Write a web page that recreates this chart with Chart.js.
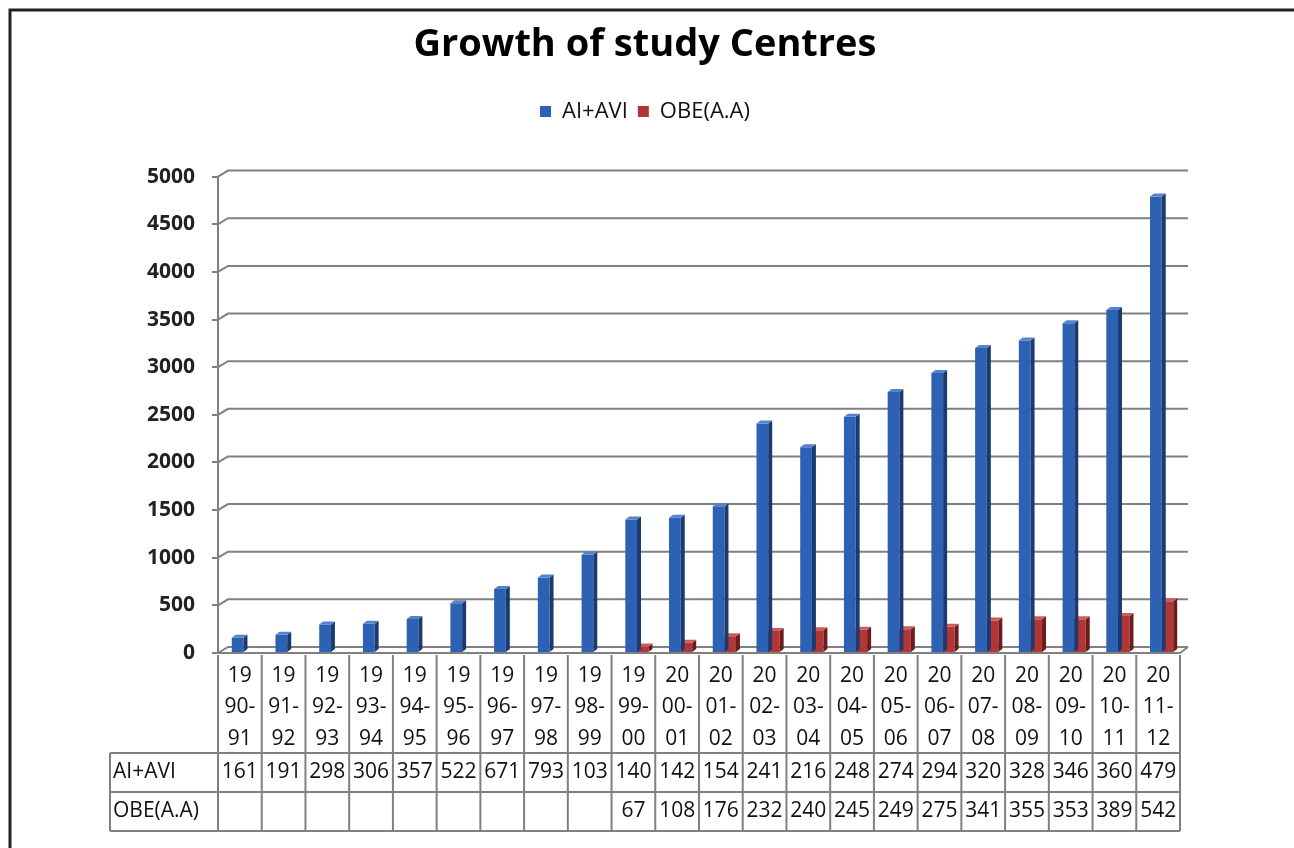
<!DOCTYPE html>
<html>
<head>
<meta charset="utf-8">
<title>Growth of study Centres</title>
<script src="https://cdn.jsdelivr.net/npm/chart.js@4.4.1/dist/chart.umd.min.js"></script>
<style>
    body { margin: 0; background: #ffffff; }
    canvas { display: block; }
</style>
</head>
<body>
<canvas id="myChart" width="1294" height="848"></canvas>
<script>
// years shown on the x axis / table header
var categories = ['1990-91', '1991-92', '1992-93', '1993-94', '1994-95', '1995-96', '1996-97',
    '1997-98', '1998-99', '1999-00', '2000-01', '2001-02', '2002-03', '2003-04', '2004-05',
    '2005-06', '2006-07', '2007-08', '2008-09', '2009-10', '2010-11', '2011-12']

// AI+AVI centres (table cells only show the first 3 digits)
var aiAvi = [161, 191, 298, 306, 357, 522, 671, 793, 1030, 1400, 1420, 1540, 2410, 2160,
    2480, 2740, 2940, 3200, 3280, 3460, 3600, 4790]

// OBE(A.A) centres, none before 1999-00
var obe = [null, null, null, null, null, null, null, null, null, 67, 108, 176, 232, 240,
    245, 249, 275, 341, 355, 353, 389, 542]

var seriesNames = ['AI+AVI', 'OBE(A.A)']
var yMax = 5000
var yStep = 500

var FONT = "'Open Sans', 'Liberation Sans', sans-serif"
var depth = { dx: 10, dy: 6 }      // 3d shift of the walls
var barDepth = { dx: 4, dy: 3 }    // 3d shift of the bars

var barColors = [
    { front: '#2C61B3', side: '#1B3A70', top: '#5584CC' },
    { front: '#B23636', side: '#6B1D1D', top: '#CF5A5A' }
]

// frame round the picture
var framePlugin = {
    id: 'frame',
    afterDraw: function (chart) {
        var ctx = chart.ctx
        ctx.save()
        ctx.strokeStyle = '#222'
        ctx.lineWidth = 3
        ctx.beginPath()
        ctx.moveTo(10, 848)
        ctx.lineTo(10, 10)
        ctx.lineTo(1294, 10)
        ctx.stroke()
        ctx.restore()
    }
}

// back wall gridlines with the little 3d step at the axis
var wallPlugin = {
    id: 'wall',
    beforeDatasetsDraw: function (chart) {
        var ctx = chart.ctx
        var y = chart.scales.y
        var area = chart.chartArea
        ctx.save()
        ctx.strokeStyle = '#808080'
        ctx.lineWidth = 2
        for (var v = 0; v <= yMax; v += yStep) {
            var py = y.getPixelForValue(v)
            ctx.beginPath()
            ctx.moveTo(area.left, py)
            ctx.lineTo(area.left + depth.dx, py - depth.dy)
            ctx.lineTo(area.right + depth.dx - 2, py - depth.dy)
            ctx.stroke()
        }
        // floor front edge
        var p0 = y.getPixelForValue(0)
        ctx.beginPath()
        ctx.moveTo(area.left, p0)
        ctx.lineTo(area.right, p0)
        ctx.lineTo(area.right + depth.dx - 2, p0 - depth.dy)
        ctx.stroke()
        ctx.restore()
    }
}

// side and top faces of each bar
var bar3dPlugin = {
    id: 'bar3d',
    afterDatasetDraw: function (chart, args) {
        var ctx = chart.ctx
        var c = barColors[args.index]
        ctx.save()
        args.meta.data.forEach(function (bar, i) {
            if (chart.data.datasets[args.index].data[i] == null) return
            var p = bar.getProps(['x', 'y', 'base', 'width'], true)
            var l = p.x - p.width / 2
            var r = p.x + p.width / 2
            ctx.fillStyle = c.side
            ctx.beginPath()
            ctx.moveTo(r, p.y)
            ctx.lineTo(r + barDepth.dx, p.y - barDepth.dy)
            ctx.lineTo(r + barDepth.dx, p.base - barDepth.dy)
            ctx.lineTo(r, p.base)
            ctx.closePath()
            ctx.fill()
            ctx.fillStyle = c.top
            ctx.beginPath()
            ctx.moveTo(l, p.y)
            ctx.lineTo(l + barDepth.dx, p.y - barDepth.dy)
            ctx.lineTo(r + barDepth.dx, p.y - barDepth.dy)
            ctx.lineTo(r, p.y)
            ctx.closePath()
            ctx.fill()
        })
        ctx.restore()
    }
}

// data table under the plot
var tablePlugin = {
    id: 'dataTable',
    afterDraw: function (chart) {
        var ctx = chart.ctx
        var x = chart.scales.x
        var n = categories.length
        var colW = (x.right - x.left) / n
        var y0 = chart.chartArea.bottom + 2
        var y1 = 753, y2 = 792, y3 = 831
        var headLeft = 110

        ctx.save()
        ctx.strokeStyle = '#808080'
        ctx.lineWidth = 2
        ctx.beginPath()
        for (var i = 0; i <= n; i++) {
            var bx = x.left + i * colW
            ctx.moveTo(bx, y0)
            ctx.lineTo(bx, y3)
        }
        ctx.moveTo(headLeft, y1)
        ctx.lineTo(headLeft, y3)
        ;[y1, y2, y3].forEach(function (yy) {
            ctx.moveTo(headLeft, yy)
            ctx.lineTo(x.right, yy)
        })
        ctx.stroke()

        ctx.fillStyle = '#111'
        ctx.font = '21px ' + FONT
        ctx.textBaseline = 'middle'
        ctx.textAlign = 'center'
        categories.forEach(function (cat, i) {
            var cx = x.getPixelForValue(i)
            ctx.fillText(cat.slice(0, 2), cx, 676)
            ctx.fillText(cat.slice(2, 5), cx, 707)
            ctx.fillText(cat.slice(5), cx, 739)
            ctx.fillText(String(aiAvi[i]).slice(0, 3), cx, (y1 + y2) / 2)
            if (obe[i] != null) ctx.fillText(String(obe[i]).slice(0, 3), cx, (y2 + y3) / 2)
        })
        ctx.textAlign = 'left'
        ctx.fillText(seriesNames[0], headLeft + 3, (y1 + y2) / 2)
        ctx.fillText(seriesNames[1], headLeft + 3, (y2 + y3) / 2)
        ctx.restore()
    }
}

var myChart = document.getElementById('myChart').getContext('2d')

var chart = new Chart(myChart, {
    type: 'bar',
    data: {
        labels: categories,
        datasets: [
            {
                label: seriesNames[0],
                data: aiAvi,
                backgroundColor: barColors[0].front,
                categoryPercentage: 0.206,
                barPercentage: 2.6
            },
            {
                label: seriesNames[1],
                data: obe,
                backgroundColor: barColors[1].front,
                categoryPercentage: 0.846,
                barPercentage: 0.63
            }
        ]
    },
    options: {
        responsive: false,
        animation: false,
        devicePixelRatio: 1,
        layout: { padding: { top: 0, right: 114, bottom: 195, left: 110 } },
        plugins: {
            title: {
                display: true,
                text: 'Growth of study Centres',
                color: '#000',
                font: { family: FONT, size: 38, weight: 'bold' },
                padding: { top: 22, bottom: 23 }
            },
            legend: {
                display: true,
                labels: {
                    color: '#111',
                    font: { family: FONT, size: 22 },
                    boxWidth: 11,
                    boxHeight: 11,
                    padding: 10
                }
            },
            // empty subtitle used as a spacer under the legend
            subtitle: {
                display: true,
                text: '',
                weight: 500,
                font: { size: 1, lineHeight: 1 },
                padding: { top: 43, bottom: 0 }
            },
            tooltip: { enabled: false }
        },
        scales: {
            x: { display: false },
            y: {
                min: 0,
                max: yMax,
                afterFit: function (scale) { scale.width = 108 },
                border: { display: true, color: '#808080', width: 2 },
                grid: { drawOnChartArea: false, tickLength: 6, color: '#808080', lineWidth: 2 },
                ticks: {
                    stepSize: yStep,
                    padding: 17,
                    color: '#222',
                    font: { family: FONT, size: 21, weight: 'bold' },
                    callback: function (value) { return String(value) }
                }
            }
        }
    },
    plugins: [framePlugin, wallPlugin, bar3dPlugin, tablePlugin]
})
</script>
</body>
</html>
